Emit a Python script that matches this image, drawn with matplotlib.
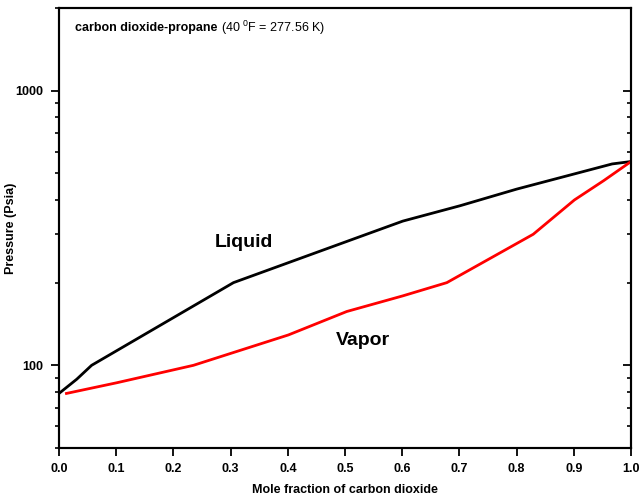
import matplotlib
matplotlib.use("Agg")
import matplotlib.pyplot as plt
from matplotlib.ticker import LogLocator, NullFormatter, FixedLocator

plt.rcParams['font.family'] = ['Liberation Sans', 'DejaVu Sans']

# liquid (bubble) curve
liq_x = [0.0, 0.031, 0.057, 0.305, 0.526, 0.601, 0.701, 0.8, 0.9, 0.967, 1.0]
liq_p = [79, 89, 100, 200, 294, 335, 381, 438, 497, 541, 552]
# vapor (dew) curve
vap_x = [0.013, 0.101, 0.235, 0.401, 0.503, 0.601, 0.678, 0.829, 0.901, 0.952, 1.0]
vap_p = [79, 86.4, 100, 129, 157, 179, 200, 300, 400, 470, 552]

xticks = [0.0, 0.1, 0.2, 0.3, 0.4, 0.5, 0.6, 0.7, 0.8, 0.9, 1.0]

fig = plt.figure(figsize=(6.4, 4.98), dpi=100)
ax = fig.add_axes([0.0922, 0.1004, 0.8938, 0.8836])

ax.plot(liq_x, liq_p, color='black', lw=2)
ax.plot(vap_x, vap_p, color='#ff0000', lw=2)

ax.set_yscale('log')
ax.set_xlim(0, 1.0)
ax.set_ylim(50, 2000)

ax.set_xticks(xticks)
ax.set_xticklabels(["%.1f" % v for v in xticks], fontsize=9, fontweight='bold')
ax.yaxis.set_major_locator(FixedLocator([100, 1000]))
ax.set_yticklabels(['100', '1000'], fontsize=9, fontweight='bold')
ax.yaxis.set_minor_locator(LogLocator(base=10, subs=range(2, 10)))
ax.yaxis.set_minor_formatter(NullFormatter())

ax.tick_params(axis='both', which='major', direction='out', length=6, width=1.3, pad=5)
ax.tick_params(axis='y', which='minor', direction='out', length=3, width=1.2)
ax.tick_params(top=False, right=False, which='both')

# right side inward ticks
ax2 = ax.twinx()
ax2.set_yscale('log')
ax2.set_ylim(50, 2000)
ax2.yaxis.set_major_locator(FixedLocator([100, 1000]))
ax2.yaxis.set_minor_locator(LogLocator(base=10, subs=range(2, 10)))
ax2.yaxis.set_major_formatter(NullFormatter())
ax2.yaxis.set_minor_formatter(NullFormatter())
ax2.tick_params(axis='y', which='major', direction='in', length=6, width=1.3)
ax2.tick_params(axis='y', which='minor', direction='in', length=3, width=1.2)

for a in (ax, ax2):
    for s in a.spines.values():
        s.set_linewidth(1.5)

ax.set_xlabel("Mole fraction of carbon dioxide", fontsize=9, fontweight='bold', labelpad=6)
ax.set_ylabel("Pressure (Psia)", fontsize=9, fontweight='bold')
ax.yaxis.set_label_coords(-0.074, 0.5)

ax.text(0.028, 0.955, "carbon dioxide-propane", transform=ax.transAxes,
        fontsize=9, fontweight='bold', va='center', ha='left')
ax.text(0.284, 0.955, "(40 $^\\mathregular{0}$F = 277.56 K)", transform=ax.transAxes,
        fontsize=9, va='center', ha='left')
ax.text(0.323, 281, "Liquid", fontsize=14, fontweight='bold', ha='center', va='center')
ax.text(0.531, 123, "Vapor", fontsize=14, fontweight='bold', ha='center', va='center')

fig.savefig("out.png", dpi=100)
